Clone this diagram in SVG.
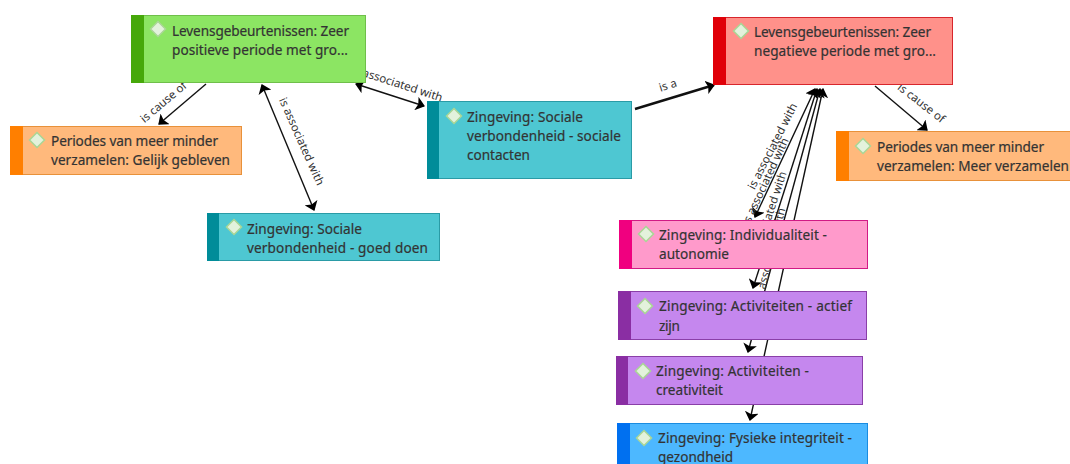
<svg xmlns="http://www.w3.org/2000/svg" width="1070" height="464" viewBox="0 0 1070 464">
<style>
text{font-family:"Noto Sans","Open Sans","Liberation Sans",sans-serif}
.t{font-size:13.6px;fill:#333;stroke:#333;stroke-width:.2px}
.l{font-size:11.5px;fill:#333}
.c{fill:none;stroke:#111;stroke-width:1.4}
.d{fill:#e3f2dc;stroke:#a9d695;stroke-width:1.5}
</style>
<defs>
<marker id="a" viewBox="0 0 10 14" refX="8" refY="7" markerWidth="10" markerHeight="14" markerUnits="userSpaceOnUse" orient="auto-start-reverse"><path d="M0 0L9 7L0 14L2 7Z" fill="#000"/></marker>
<path id="dm" class="d" d="M0-7.500L7.500 0L0 7.500L-7.500 0Z"/>
</defs>
<g id="connectors">
<path class="c" d="M206 84L159 124" marker-end="url(#a)"/>
<path class="c" d="M262 85L314 210" marker-start="url(#a)" marker-end="url(#a)"/>
<path class="c" d="M356 84L424 106" marker-start="url(#a)" marker-end="url(#a)"/>
<path class="c" d="M635 109L714 85" style="stroke-width:2.4" marker-end="url(#a)"/>
<path class="c" d="M875 86L927 130" marker-end="url(#a)"/>
<path class="c" d="M815 89L755 217" marker-start="url(#a)" marker-end="url(#a)"/>
<path class="c" d="M817 89L753 288" marker-start="url(#a)" marker-end="url(#a)"/>
<path class="c" d="M820 89L748 352" marker-start="url(#a)" marker-end="url(#a)"/>
<path class="c" d="M823 89L750 420" marker-start="url(#a)" marker-end="url(#a)"/>
<text class="l" transform="translate(166 105) rotate(-40)" text-anchor="middle">is cause of</text>
<text class="l" transform="translate(298 143) rotate(66)" text-anchor="middle">is associated with</text>
<text class="l" transform="translate(396 87) rotate(18)" text-anchor="middle">is associated with</text>
<text class="l" transform="translate(669 89) rotate(-18)" text-anchor="middle">is a</text>
<text class="l" transform="translate(919 106) rotate(38)" text-anchor="middle">is cause of</text>
<text class="l" transform="translate(776 148) rotate(-63)" text-anchor="middle">is associated with</text>
<text class="l" transform="translate(769 183) rotate(-65)" text-anchor="middle">is associated with</text>
<text class="l" transform="translate(772 218) rotate(-72)" text-anchor="middle">is associated with</text>
<text class="l" transform="translate(774 255) rotate(-76)" text-anchor="middle">is associated with</text>
</g>
<g id="n1"><rect x="131.500" y="15.500" width="234" height="67" fill="#8ce563" stroke="#6fbf4a"/><rect x="131" y="15" width="13" height="68" fill="#46a80a"/><use href="#dm" x="158" y="29"/><text class="t" x="172" y="36" textLength="177">Levensgebeurtenissen: Zeer</text><text class="t" x="172" y="55" textLength="176">positieve periode met gro...</text></g>
<g id="n2"><rect x="10.500" y="126.500" width="231" height="48" fill="#ffb97c" stroke="#e8913a"/><rect x="10" y="126" width="13" height="49" fill="#ff7f00"/><use href="#dm" x="37" y="140"/><text class="t" x="51" y="146" textLength="167">Periodes van meer minder</text><text class="t" x="51" y="165" textLength="179">verzamelen: Gelijk gebleven</text></g>
<g id="n3"><rect x="207.500" y="213.500" width="232" height="47" fill="#4ec7d2" stroke="#2a9ba6"/><rect x="207" y="213" width="12" height="48" fill="#008c99"/><use href="#dm" x="234" y="227"/><text class="t" x="247" y="234" textLength="115">Zingeving: Sociale</text><text class="t" x="247" y="253" textLength="181">verbondenheid - goed doen</text></g>
<g id="n4"><rect x="427.500" y="101.500" width="204" height="77" fill="#4ec7d2" stroke="#2a9ba6"/><rect x="427" y="101" width="12" height="78" fill="#008c99"/><use href="#dm" x="454" y="116"/><text class="t" x="467" y="122" textLength="116">Zingeving: Sociale</text><text class="t" x="467" y="141" textLength="154">verbondenheid - sociale</text><text class="t" x="467" y="160" textLength="63">contacten</text></g>
<g id="n5"><rect x="713.500" y="17.500" width="239" height="67" fill="#ff918a" stroke="#d8262c"/><rect x="713" y="17" width="13" height="68" fill="#e00008"/><use href="#dm" x="741" y="31"/><text class="t" x="754" y="37" textLength="177">Levensgebeurtenissen: Zeer</text><text class="t" x="754" y="56" textLength="182">negatieve periode met gro...</text></g>
<g id="n6"><rect x="836.500" y="131.500" width="240" height="49" fill="#ffb97c" stroke="#e8913a"/><rect x="836" y="131" width="13" height="50" fill="#ff7f00"/><use href="#dm" x="863" y="146"/><text class="t" x="877" y="152" textLength="167">Periodes van meer minder</text><text class="t" x="877" y="171" textLength="192">verzamelen: Meer verzamelen</text></g>
<g id="n7"><rect x="619.500" y="220.500" width="248" height="48" fill="#ff9acb" stroke="#d11a85"/><rect x="619" y="220" width="13" height="49" fill="#f0007f"/><use href="#dm" x="646" y="234"/><text class="t" x="659" y="240" textLength="168">Zingeving: Individualiteit -</text><text class="t" x="659" y="259" textLength="70">autonomie</text></g>
<g id="n8"><rect x="618.500" y="291.500" width="248" height="48" fill="#c587ee" stroke="#8a3fa8"/><rect x="618" y="291" width="13" height="49" fill="#8a2ea3"/><use href="#dm" x="645" y="306"/><text class="t" x="659" y="311" textLength="193">Zingeving: Activiteiten - actief</text><text class="t" x="659" y="331" textLength="21">zijn</text></g>
<g id="n9"><rect x="616.500" y="356.500" width="246" height="48" fill="#c587ee" stroke="#8a3fa8"/><rect x="616" y="356" width="12" height="49" fill="#8a2ea3"/><use href="#dm" x="643" y="371"/><text class="t" x="656" y="376" textLength="153">Zingeving: Activiteiten -</text><text class="t" x="656" y="395" textLength="67">creativiteit</text></g>
<g id="n10"><rect x="617.500" y="423.500" width="250" height="48" fill="#4db8ff" stroke="#1a8ce0"/><rect x="617" y="423" width="13" height="49" fill="#0070f0"/><use href="#dm" x="644" y="438"/><text class="t" x="658" y="443" textLength="194">Zingeving: Fysieke integriteit -</text><text class="t" x="658" y="462" textLength="75">gezondheid</text></g>
</svg>
